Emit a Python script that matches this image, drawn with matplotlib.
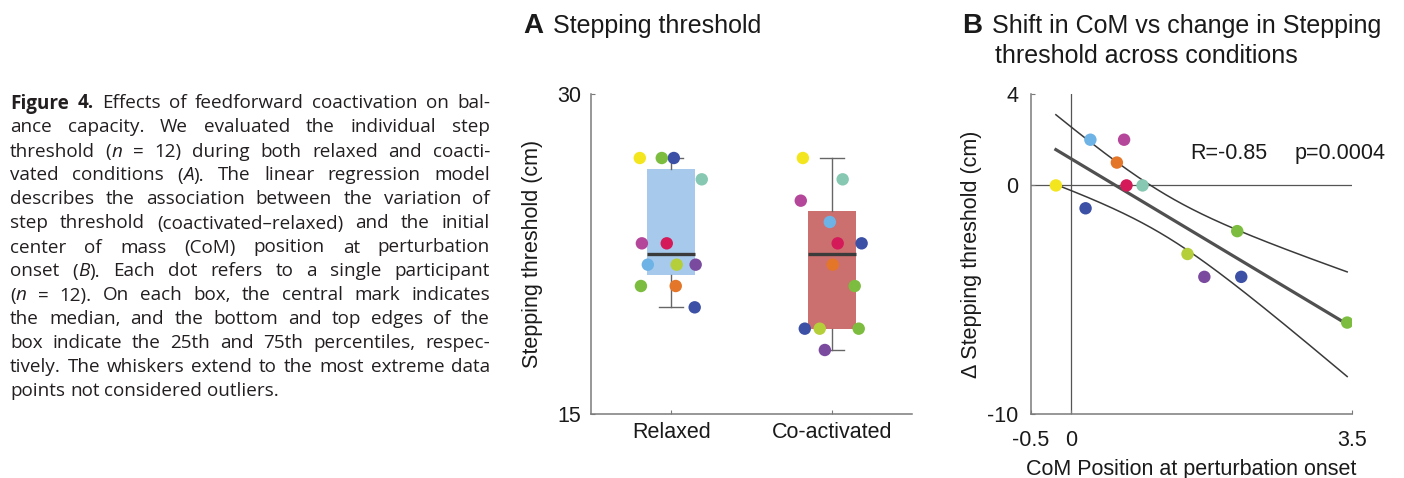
import re

import matplotlib

matplotlib.use("Agg")
import matplotlib.pyplot as plt
import numpy as np

# ---------------------------------------------------------------- data
CONDITIONS = ["Relaxed", "Co-activated"]
PARTICIPANT_COLORS = [
    "#F4E61E",  # yellow
    "#87C8B2",  # teal
    "#B5479A",  # magenta
    "#6EB3E5",  # light blue
    "#D51A5A",  # crimson
    "#E37629",  # orange
    "#3C50A5",  # dark blue
    "#3C50A5",  # dark blue
    "#7CBD3F",  # green
    "#7CBD3F",  # green
    "#B5CF3A",  # yellow-green
    "#7A4A9E",  # purple
]
RELAXED = [27, 26, 23, 22, 23, 21, 20, 27, 21, 27, 22, 22]
COACTIVATED = [27, 26, 25, 24, 23, 22, 19, 23, 19, 21, 19, 18]
RELAXED_JITTER = [-0.196, 0.19, -0.183, -0.146, -0.028, 0.028, 0.146, 0.016, -0.189, -0.059, 0.034, 0.152]
COACT_JITTER = [-0.18, 0.068, -0.193, -0.012, 0.037, 0.006, -0.168, 0.186, 0.168, 0.143, -0.075, -0.043]
COM_POSITION = [-0.19, 0.89, 0.66, 0.24, 0.69, 0.57, 0.18, 2.12, 2.07, 3.44, 1.45, 1.66]
R_TEXT = "R=-0.85"
P_TEXT = "p=0.0004"
T_CRIT = 2.228  # t(0.975, df=10)

CAPTION_LINES = [
    "{b:Figure} {b:4.} Effects of feedforward coactivation on bal-",
    "ance capacity. We evaluated the individual step",
    "threshold ({i:n} = 12) during both relaxed and coacti-",
    "vated conditions ({i:A}). The linear regression model",
    "describes the association between the variation of",
    "step threshold (coactivated\u2013relaxed) and the initial",
    "center of mass (CoM) position at perturbation",
    "onset ({i:B}). Each dot refers to a single participant",
    "({i:n} = 12). On each box, the central mark indicates",
    "the median, and the bottom and top edges of the",
    "box indicate the 25th and 75th percentiles, respec-",
    "tively. The whiskers extend to the most extreme data",
    "points not considered outliers.",
]

BOX_COLORS = ["#A7C9EC", "#CC6F6F"]
SPINE = "#7a7a7a"
TEXT = "#1a1a1a"

W_PX, H_PX = 1404, 478

plt.rcParams.update(
    {
        "font.family": ["Liberation Sans", "DejaVu Sans"],
        "font.size": 15.5,
        "axes.unicode_minus": False,
        "text.color": TEXT,
        "axes.labelcolor": TEXT,
        "xtick.color": SPINE,
        "ytick.color": SPINE,
        "xtick.labelcolor": TEXT,
        "ytick.labelcolor": TEXT,
        "xtick.direction": "in",
        "ytick.direction": "in",
        "xtick.major.size": 3,
        "ytick.major.size": 3,
        "axes.edgecolor": SPINE,
        "axes.linewidth": 1.1,
    }
)

RUN = re.compile(r"\{([bi]):([^}]*)\}")


def runs(word):
    out, pos = [], 0
    for m in RUN.finditer(word):
        if m.start() > pos:
            out.append((word[pos:m.start()], "n"))
        out.append((m.group(2), m.group(1)))
        pos = m.end()
    if pos < len(word):
        out.append((word[pos:], "n"))
    return out


def box_stats(values):
    v = np.asarray(values, dtype=float)
    q1, med, q3 = np.percentile(v, [25, 50, 75], method="hazen")
    iqr = q3 - q1
    inside = v[(v >= q1 - 1.5 * iqr) & (v <= q3 + 1.5 * iqr)]
    return dict(med=med, q1=q1, q3=q3, whislo=inside.min(), whishi=inside.max(), fliers=[])


def ax_rect(left, top, right, bottom):
    return [left / W_PX, 1 - bottom / H_PX, (right - left) / W_PX, (bottom - top) / H_PX]


def fig_text(fig, x_px, y_px, s, **kw):
    return fig.text(x_px / W_PX, 1 - y_px / H_PX, s, va="baseline", **kw)


def draw_caption(fig):
    renderer = fig.canvas.get_renderer()
    font = dict(family=["Open Sans", "DejaVu Sans"], fontsize=13.6, color="#231f20")
    left, right, top, step = 10, 490, 108.5, 24.0

    def width(t):
        return t.get_window_extent(renderer).width

    probe = fig.text(0, 0, "x x", **font)
    w_sp = width(probe)
    probe.set_text("xx")
    space = w_sp - width(probe)
    probe.remove()

    for i, line in enumerate(CAPTION_LINES):
        y = top + i * step
        words = []
        for word in line.split():
            parts = []
            for s, style in runs(word):
                t = fig_text(
                    fig, 0, y, s,
                    fontweight="bold" if style == "b" else "normal",
                    fontstyle="italic" if style == "i" else "normal",
                    **font,
                )
                parts.append((t, width(t)))
            words.append(parts)
        total = sum(w for parts in words for _, w in parts)
        if i == len(CAPTION_LINES) - 1:
            gap = space
        else:
            gap = (right - left - total) / (len(words) - 1)
        x = left
        for parts in words:
            for t, w in parts:
                t.set_x(x / W_PX)
                x += w
            x += gap


def plot_threshold(fig):
    ax = fig.add_axes(ax_rect(591, 94, 912, 414))
    positions = np.arange(1, len(CONDITIONS) + 1)
    stats = [box_stats(RELAXED), box_stats(COACTIVATED)]
    bp = ax.bxp(
        stats,
        positions=positions,
        widths=0.3,
        patch_artist=True,
        showfliers=False,
        boxprops=dict(linewidth=0),
        medianprops=dict(color="#3b3b3b", linewidth=2.4),
        whiskerprops=dict(color="#666666", linewidth=1.0),
        capprops=dict(color="#666666", linewidth=1.0),
    )
    for patch, color in zip(bp["boxes"], BOX_COLORS):
        patch.set_facecolor(color)
        patch.set_edgecolor(color)

    for pos, vals, jit in zip(positions, [RELAXED, COACTIVATED], [RELAXED_JITTER, COACT_JITTER]):
        ax.scatter(pos + np.asarray(jit), vals, s=80, c=PARTICIPANT_COLORS, linewidths=0, zorder=3)

    ax.set_xlim(0.5, 2.5)
    ax.set_ylim(15, 30)
    ax.set_yticks([15, 30])
    ax.set_xticks(positions)
    ax.set_xticklabels(CONDITIONS)
    ax.tick_params(axis="x", pad=5.5)
    ax.tick_params(axis="y", pad=7)
    for side in ["top", "right"]:
        ax.spines[side].set_visible(False)
    ax.set_ylabel("Stepping threshold (cm)")
    ax.yaxis.set_label_coords(-0.181, 0.5)
    ax.yaxis.label.set_va("center")

    fig_text(fig, 523, 33, "A", fontsize=20, fontweight="bold")
    fig_text(fig, 553, 33, "Stepping threshold", fontsize=18)


def plot_regression(fig):
    ax = fig.add_axes(ax_rect(1031, 94, 1352, 414))
    x = np.asarray(COM_POSITION, dtype=float)
    delta = np.asarray(COACTIVATED, dtype=float) - np.asarray(RELAXED, dtype=float)

    ax.axhline(0, color="#555555", linewidth=0.9, zorder=1)
    ax.axvline(0, color="#555555", linewidth=0.9, zorder=1)

    slope, intercept = np.polyfit(x, delta, 1)
    n = len(x)
    resid = delta - (slope * x + intercept)
    s = np.sqrt(np.sum(resid ** 2) / (n - 2))
    sxx = np.sum((x - x.mean()) ** 2)
    xs = np.linspace(x.min(), x.max(), 200)
    fit = slope * xs + intercept
    half = T_CRIT * s * np.sqrt(1 / n + (xs - x.mean()) ** 2 / sxx)
    ax.plot(xs, fit, color="#505050", linewidth=2.3, zorder=2)
    ax.plot(xs, fit + half, color="#3a3a3a", linewidth=1.1, zorder=2)
    ax.plot(xs, fit - half, color="#3a3a3a", linewidth=1.1, zorder=2)

    ax.scatter(x, delta, s=80, c=PARTICIPANT_COLORS, linewidths=0, zorder=3)

    ax.text(1.48, 1.39, R_TEXT, va="center", ha="left", color=TEXT)
    ax.text(2.79, 1.39, P_TEXT, va="center", ha="left", color=TEXT, clip_on=False)

    ax.set_xlim(-0.5, 3.5)
    ax.set_ylim(-10, 4)
    ax.set_xticks([-0.5, 0, 3.5])
    ax.set_xticklabels(["-0.5", "0", "3.5"])
    ax.set_yticks([-10, 0, 4])
    ax.set_yticklabels(["-10", "0", "4"])
    ax.tick_params(axis="x", pad=11.5)
    ax.tick_params(axis="y", pad=9)
    for side in ["top", "right"]:
        ax.spines[side].set_visible(False)
    ax.set_ylabel("\u0394 Stepping threshold (cm)")
    ax.yaxis.set_label_coords(-0.184, 0.5)
    ax.yaxis.label.set_va("center")
    ax.set_xlabel("CoM Position at perturbation onset")
    ax.xaxis.set_label_coords(0.5, -0.191)
    ax.xaxis.label.set_va("baseline")

    fig_text(fig, 962, 33, "B", fontsize=20, fontweight="bold")
    fig_text(fig, 992, 33, "Shift in CoM vs change in Stepping", fontsize=18)
    fig_text(fig, 995, 63, "threshold across conditions", fontsize=18)


def main():
    fig = plt.figure(figsize=(W_PX / 100, H_PX / 100), dpi=100)
    fig.patch.set_facecolor("white")
    plot_threshold(fig)
    plot_regression(fig)
    draw_caption(fig)
    fig.savefig("out.png", dpi=100)
    plt.close(fig)


if __name__ == "__main__":
    main()
